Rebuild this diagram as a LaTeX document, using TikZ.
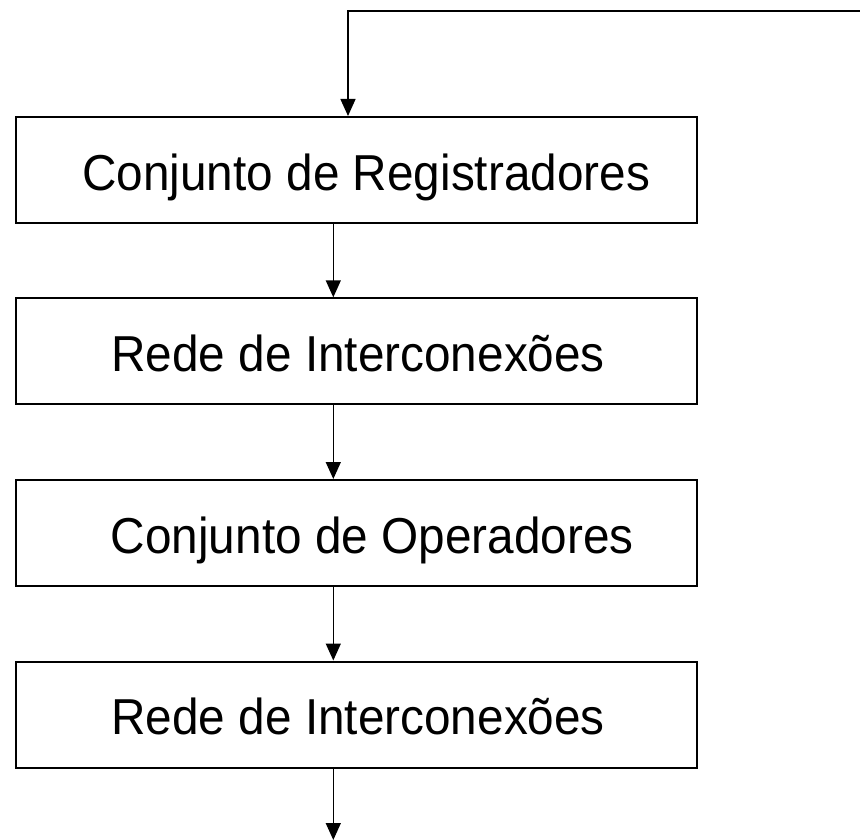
\documentclass[tikz,border=0pt]{standalone}
\usepackage{fontspec}
\setmainfont[FakeStretch=0.945]{Liberation Sans}
\usetikzlibrary{arrows.meta}
\begin{document}
\begin{tikzpicture}[x=1pt,y=-1pt,
  blockbox/.style={draw, line width=2pt, minimum width=681pt, minimum height=106pt,
    inner sep=0pt, text height=40.2pt, text depth=0pt,
    font=\fontsize{50.5}{58}\selectfont},
  conn/.style={line width=1.4pt, -{Triangle[width=15pt,length=17pt]}}]
\useasboundingbox (0,0) rectangle (860,840);
\node[blockbox] (b1) at (356.2,170) {\hspace*{20pt}Conjunto de Registradores};
\node[blockbox] (b2) at (356.2,351.3) {\hspace*{4pt}Rede de Interconexões};
\node[blockbox] (b3) at (356.2,533) {\hspace*{32pt}Conjunto de Operadores};
\node[blockbox] (b4) at (356.2,714.5) {\hspace*{4pt}Rede de Interconexões};
\coordinate (ax) at (333.3,0);
\coordinate (fb) at (860,11);
\coordinate (fbx) at (348,11);
\coordinate (out) at (333.3,840);
\draw[conn] (fb) -- (fbx) -- (b1.north -| fbx);
\draw[conn] (b1.south -| ax) -- (b2.north -| ax);
\draw[conn] (b2.south -| ax) -- (b3.north -| ax);
\draw[conn] (b3.south -| ax) -- (b4.north -| ax);
\draw[conn] (b4.south -| ax) -- (out);
\end{tikzpicture}
\end{document}
